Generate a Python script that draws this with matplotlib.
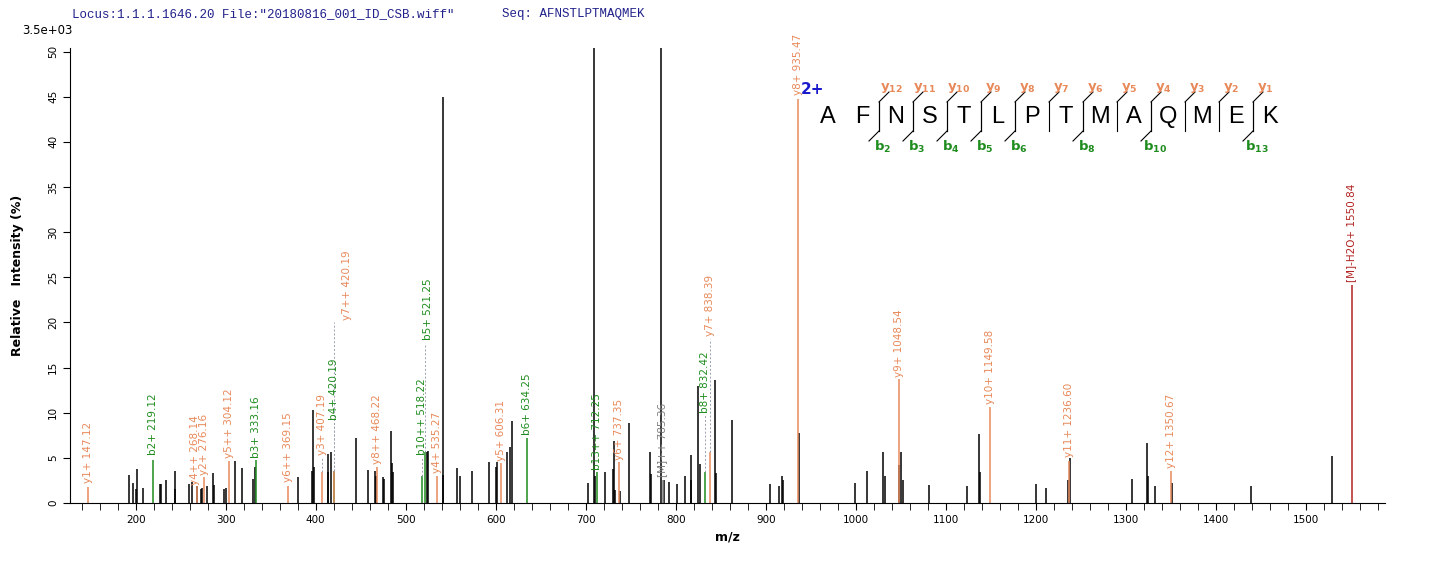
import matplotlib
matplotlib.use("Agg")
import matplotlib.pyplot as plt

# ---- data ----
peak_mz = [192,197,200.5,201,208,227,228,234,243.5,244,259,262,268,272,274,279,285.5,286.5,298,300,310,318,330,332,
           380,396,397,397.6,413.5,414,417,445,458,465.5,467,475,476,484,485,485.8,524,525,541,541.6,557,560,574,592,
           600.5,601,612,616,618,703,709,710,721,730.5,731,733,738,748,771,772,784,787,792,801,810,816.5,817.5,825,827,
           844,845,863,905,915,918.5,919.5,937,999,1012,1030,1033,1048,1050,1052,1081,1124,1137,1138,1200,1211,1236,
           1238,1307,1324,1325,1333,1351,1439,1529]
peak_int = [3.1,2.2,1.6,3.8,1.7,2.1,2.1,2.6,1.5,3.5,2.1,2.3,1.9,1.6,1.7,1.9,3.3,2.0,1.6,1.7,4.7,3.9,2.7,4.0,
            2.9,3.6,10.3,4.0,3.4,5.4,5.6,7.2,3.7,3.5,3.0,2.9,2.7,8.0,4.4,3.4,5.6,5.8,45.0,3.1,3.9,3.0,3.6,4.5,
            4.0,4.5,5.7,6.2,9.1,2.2,50.4,3.0,3.4,3.8,6.9,1.4,1.3,8.9,5.6,3.2,50.4,2.6,2.3,2.1,3.0,2.5,5.3,13.0,4.3,
            13.6,3.3,9.2,2.1,1.9,3.0,2.5,7.8,2.2,3.5,5.6,3.0,4.2,5.6,2.5,2.0,1.9,7.6,3.4,2.1,1.7,2.5,
            5.0,2.7,6.7,3.0,1.9,2.2,1.9,5.2]

ion_mz = [147.12,219.12,268.14,276.16,304.12,333.16,369.15,407.19,420.19,420.19,468.22,518.22,521.25,535.27,
          606.31,634.25,712.25,737.35,785.36,832.42,838.39,935.47,1048.54,1149.58,1236.60,1350.67,1550.84]
ion_int = [1.8,4.8,1.9,2.9,4.7,4.8,1.9,3.4,3.5,3.5,4.0,3.0,5.6,3.0,4.4,7.2,3.4,4.5,2.6,3.4,5.6,44.8,13.7,10.6,4.7,3.6,24.1]
ion_label = ["y1+ 147.12","b2+ 219.12","y4++ 268.14","y2+ 276.16","y5++ 304.12","b3+ 333.16","y6++ 369.15",
             "y3+ 407.19","b4+ 420.19","y7++ 420.19","y8++ 468.22","b10++ 518.22","b5+ 521.25","y4+ 535.27",
             "y5+ 606.31","b6+ 634.25","b13++ 712.25","y6+ 737.35","[M]++ 785.36","b8+ 832.42","y7+ 838.39",
             "y8+ 935.47","y9+ 1048.54","y10+ 1149.58","y11+ 1236.60","y12+ 1350.67","[M]-H2O+ 1550.84"]
ion_kind = ["y","b","y","y","y","b","y","y","b","y","y","b","b","y","y","b","b","y","m","b","y","y","y","y","y","y","r"]
label_base = [2.2,5.3,2.0,3.1,5.0,5.0,2.3,5.3,9.2,20.3,4.3,5.3,18.0,3.3,4.7,7.5,3.7,4.8,2.9,10.0,18.5,45.2,14.0,11.0,5.1,3.9,24.5]
label_mz = [147.12,219.12,266,276.16,304.12,333.16,369.15,407.19,420.19,435,468.22,518.22,525,535.27,
            606.31,634.25,712.25,737.35,785.36,832.42,838.39,935.47,1048.54,1149.58,1236.60,1350.67,1550.84]

sequence = list("AFNSTLPTMAQMEK")
y_ions = list(range(1, 13))
b_ions = [2, 3, 4, 5, 6, 8, 10, 13]

colors = {"y": "#E8895A", "b": "#1E8C1E", "m": "#808080", "r": "#B22222"}

fig = plt.figure(figsize=(14.36, 5.62), dpi=100)
ax = fig.add_axes([70/1436, 1-503/562, (1385-70)/1436, (503-48)/562])
ax.set_xlim(127, 1588)
ax.set_ylim(0, 50.4)
ax.vlines(peak_mz, 0, peak_int, color="black", lw=1.1)
for mz, h, lab, k, base, lmz in zip(ion_mz, ion_int, ion_label, ion_kind, label_base, label_mz):
    c = colors[k]
    ax.vlines(mz, 0, h, color=c, lw=1.1)
    if base - h > 1.0:
        ax.plot([mz, mz], [h, base - 0.3], ls=(0, (2, 2)), color="#9aa0b0", lw=0.7)
    ax.text(lmz, base, lab, rotation=90, ha="center", va="bottom", color=c, fontsize=7.5, clip_on=False)

for s in ["top", "right"]:
    ax.spines[s].set_visible(False)
ax.set_xticks(range(200, 1600, 100))
ax.set_xticks(range(140, 1590, 20), minor=True)
ax.tick_params(axis="x", which="both", length=5, labelsize=7.5)
ax.set_yticks(range(0, 51, 5))
ax.tick_params(axis="y", length=5, labelsize=7.5)
for t in ax.get_yticklabels():
    t.set_rotation(90); t.set_va("center")
ax.set_xlabel("m/z", fontweight="bold", fontsize=9)
ax.set_ylabel("Relative   Intensity (%)", fontweight="bold", fontsize=9)
ax.yaxis.set_label_coords(-0.035, 0.5)

# overlay in pixel coordinates
ov = fig.add_axes([0, 0, 1, 1], facecolor="none")
ov.set_xlim(0, 1436); ov.set_ylim(562, 0); ov.axis("off")
ov.text(72, 14, 'Locus:1.1.1.1646.20 File:"20180816_001_ID_CSB.wiff"', family="Liberation Mono",
        color="#22228C", fontsize=9, va="center")
ov.text(502, 14, "Seq: AFNSTLPTMAQMEK", family="Liberation Mono", color="#22228C", fontsize=9, va="center")
ov.text(22, 31, "3.5e+03", fontsize=8.5, va="center")
ov.text(801, 90, "2+", color="#1a1acc", fontsize=11, fontweight="bold", va="center")

x0, dx = 828, 34
for i, ch in enumerate(sequence):
    ov.text(x0 + i*dx, 117, ch, fontsize=17, ha="center", va="center", family="Liberation Sans")
n = len(sequence)
for yi in y_ions:
    sep = x0 + (n - yi - 1)*dx + dx/2
    ov.plot([sep, sep], [102, 131], color="black", lw=0.8)
    ov.plot([sep, sep + 10], [102, 92], color="black", lw=0.8)
    ov.text(sep + 12, 88, r"$\mathbf{y}_{\mathbf{%d}}$" % yi, color=colors["y"], fontsize=9.5, ha="center", va="center")
for bi in b_ions:
    sep = x0 + (bi - 1)*dx + dx/2
    ov.plot([sep, sep], [102, 131], color="black", lw=0.8)
    ov.plot([sep, sep - 10], [131, 141], color="black", lw=0.8)
    ov.text(sep + 4, 147, r"$\mathbf{b}_{\mathbf{%d}}$" % bi, color=colors["b"], fontsize=9.5, ha="center", va="center")

fig.savefig("out.png", dpi=100)
